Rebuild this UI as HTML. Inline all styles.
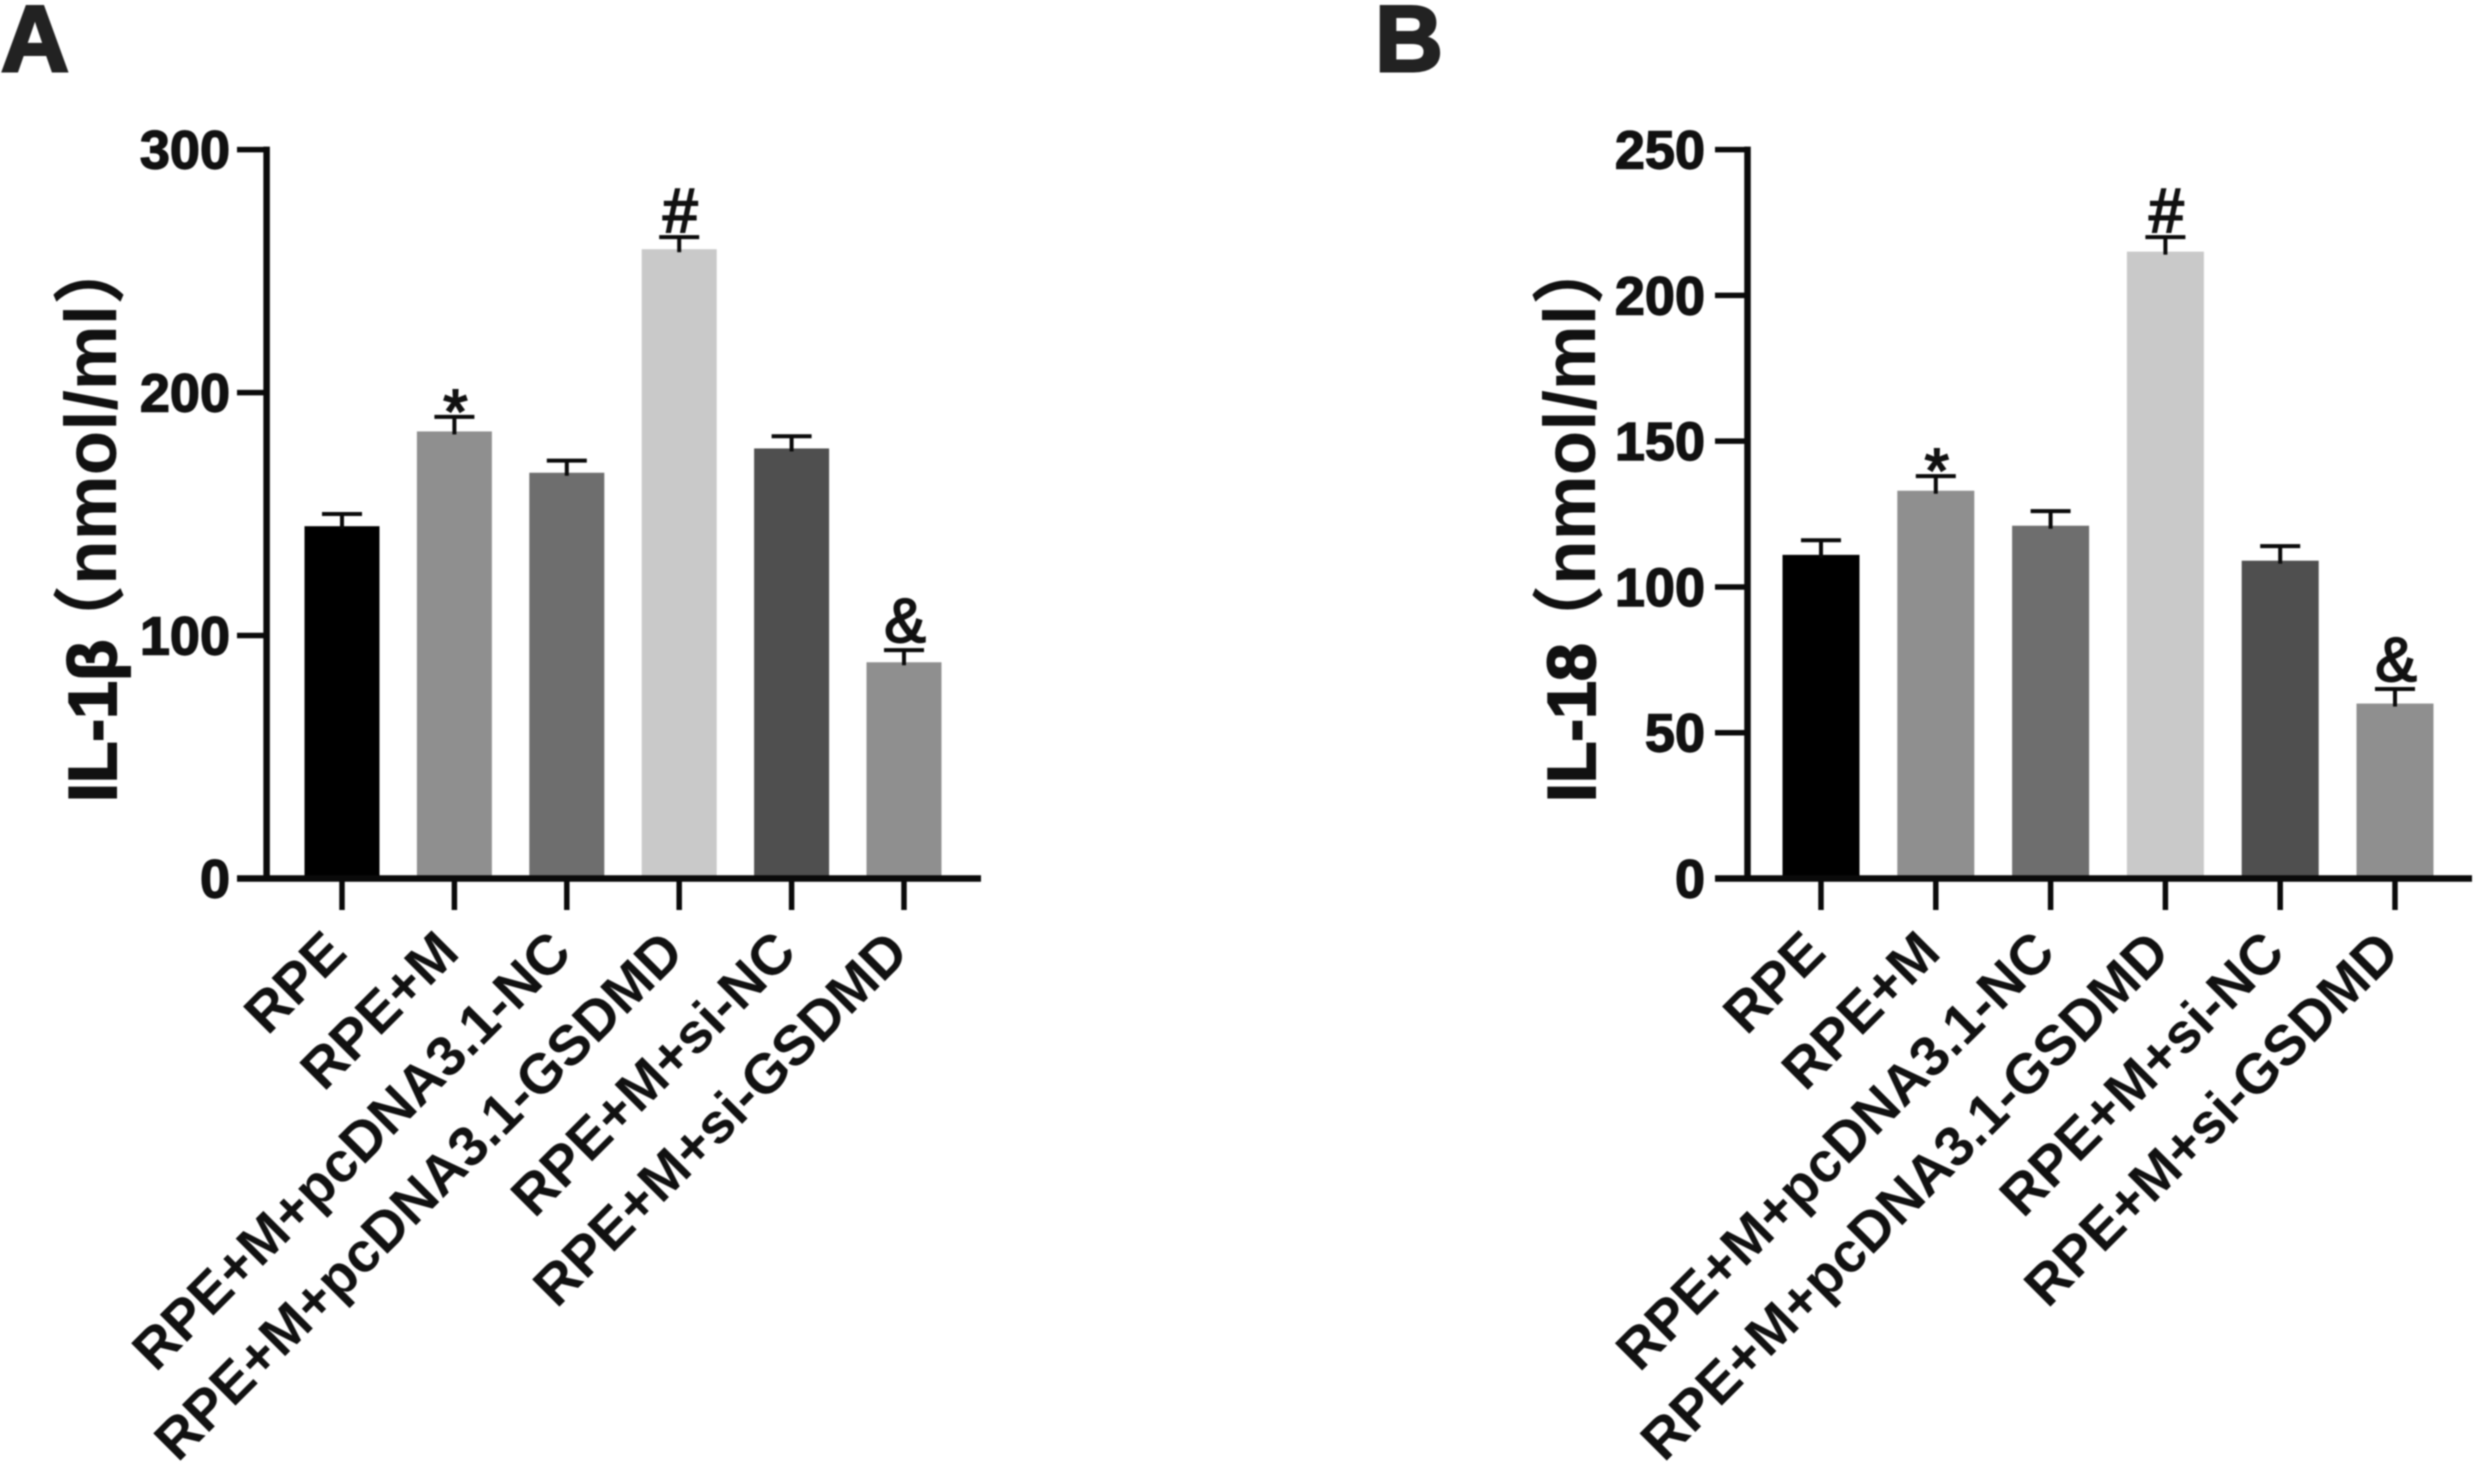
<!DOCTYPE html>
<html lang="en">
<head>
<meta charset="utf-8">
<title>IL-1β and IL-18 bar charts</title>
<style>
  html, body { margin: 0; padding: 0; background: #fff; }
  #figure { display: block; width: 2474px; height: 1466px; filter: blur(0.7px); }
  text { font-family: "Liberation Sans", "Noto Sans CJK SC", sans-serif; fill: #111; }
  .axis { stroke: #0a0a0a; stroke-width: 6.5; fill: none; }
  .tick { stroke: #0a0a0a; stroke-width: 5.5; fill: none; }
  .err { stroke: #0a0a0a; stroke-width: 4; fill: none; }
  .ytick { font-size: 54px; font-weight: 700; text-anchor: end; stroke: #111; stroke-width: 1.4; }
  .xtick { font-size: 56px; font-weight: 700; text-anchor: end; }
  .ytitle-a { font-size: 68px; font-weight: 700; stroke: #111; stroke-width: 2; }
  .ytitle-b { font-size: 73px; font-weight: 700; text-anchor: end; }
  .mark { font-size: 62px; text-anchor: middle; stroke: #111; stroke-width: 2; }
  .panel { font-size: 94px; font-weight: 700; fill: #222; stroke: #222; stroke-width: 3; }
  .g0 { fill: #000000; } .g1 { fill: #8f8f8f; } .g2 { fill: #6e6e6e; }
  .g3 { fill: #c9c9c9; } .g4 { fill: #4f4f4f; } .g5 { fill: #8f8f8f; }
</style>
</head>
<body>
<svg id="figure" xmlns="http://www.w3.org/2000/svg" width="2474" height="1466" viewBox="0 0 2474 1466">
  <rect x="0" y="0" width="2474" height="1466" fill="#fff"/>
</svg>
<script>
const categories = ['RPE', 'RPE+M', 'RPE+M+pcDNA3.1-NC', 'RPE+M+pcDNA3.1-GSDMD', 'RPE+M+si-NC', 'RPE+M+si-GSDMD'];
const significanceMarks = ['', '*', '', '#', '', '&'];

const ilBetaValues = [145, 184, 167, 259, 177, 89];
const ilBetaErrors = [5, 6, 5, 5, 5, 5];
const ilBetaTicks = [0, 100, 200, 300];

const il18Values = [111, 133, 121, 215, 109, 60];
const il18Errors = [5, 5, 5, 5, 5, 5];
const il18Ticks = [0, 50, 100, 150, 200, 250];

const svg = document.getElementById('figure');
const NS = 'http://www.w3.org/2000/svg';

function make(parent, tag, attrs, text) {
  const el = document.createElementNS(NS, tag);
  for (const key in attrs) el.setAttribute(key, attrs[key]);
  if (text !== undefined) el.textContent = text;
  parent.appendChild(el);
  return el;
}

function drawPanel(cfg, values, errors, ticks) {
  const g = make(svg, 'g', {});
  
  

  const yMax = ticks[ticks.length - 1];
  const yScale = v => cfg.y0 - (cfg.y0 - cfg.yTop) * v / yMax;
  const xScale = i => cfg.x0 + cfg.step * i;

  const letter = make(g, 'text', { class: 'panel', x: cfg.letterX, y: 71 }, cfg.letter);
  
  

  values.forEach((v, i) => {
    const cx = xScale(i);
    const top = yScale(v);
    const errTop = yScale(v + errors[i]);

    const bar = make(g, 'rect', { class: 'g' + i, x: cx - cfg.barW / 2, y: top, width: cfg.barW, height: cfg.y0 - top });
    
    

    const stem = make(g, 'line', { class: 'err', x1: cx, x2: cx, y1: top + 3, y2: errTop });
    
    

    const cap = make(g, 'line', { class: 'err', x1: cx - 20, x2: cx + 20, y1: errTop, y2: errTop });
    
    

    const sign = significanceMarks[i];
    if (sign) {
      const shift = sign === '*' ? 16 : sign === '#' ? -5 : -8;
      const markEl = make(g, 'text', { class: 'mark', x: cx + 1, y: errTop + shift }, sign);
      
      
    }

    const xt = make(g, 'line', { class: 'tick', x1: cx, x2: cx, y1: cfg.y0, y2: 910 });
    
    

    const lx = cx + cfg.labelDx;
    const ly = 955;
    const label = make(g, 'text', { class: 'xtick', x: lx, y: ly, transform: 'rotate(-45 ' + lx + ' ' + ly + ')' }, categories[i]);
    
    
  });

  const yAxis = make(g, 'line', { class: 'axis', x1: cfg.axisX, x2: cfg.axisX, y1: cfg.yTop - 3, y2: cfg.y0 });
  
  

  const xAxis = make(g, 'line', { class: 'axis', x1: cfg.tickLeft, x2: cfg.axisEnd, y1: cfg.y0, y2: cfg.y0 });
  
  

  ticks.forEach(t => {
    const y = yScale(t);
    if (t !== 0) {
      const mark = make(g, 'line', { class: 'tick', x1: cfg.tickLeft, x2: cfg.axisX, y1: y, y2: y });
      
      
    }
    const lab = make(g, 'text', { class: 'ytick', x: cfg.tickLabelX, y: y + 19 }, String(t));
    
    
  });

  const titleA = make(g, 'text', { class: 'ytitle-a', x: cfg.titleX, y: 802, transform: 'rotate(-90 ' + cfg.titleX + ' 802)' }, cfg.title);
  
  

  const titleB = make(g, 'text', { class: 'ytitle-b', x: cfg.titleX, y: 232, transform: 'rotate(-90 ' + cfg.titleX + ' 232)' }, '（nmol/ml）');
  
  
}

drawPanel({
  name: 'panel-a-il1b-chart', letter: 'A', letterX: 1, title: 'IL-1β',
  x0: 342, step: 112.4, barW: 75, y0: 878.5, yTop: 149.6,
  axisX: 266.6, tickLeft: 237, axisEnd: 981, tickLabelX: 230, titleX: 116, labelDx: 7
}, ilBetaValues, ilBetaErrors, ilBetaTicks);

drawPanel({
  name: 'panel-b-il18-chart', letter: 'B', letterX: 1375, title: 'IL-18',
  x0: 1821, step: 114.8, barW: 77, y0: 878.5, yTop: 149.6,
  axisX: 1747.5, tickLeft: 1715, axisEnd: 2472, tickLabelX: 1705, titleX: 1595, labelDx: 7
}, il18Values, il18Errors, il18Ticks);
</script>
</body>
</html>
